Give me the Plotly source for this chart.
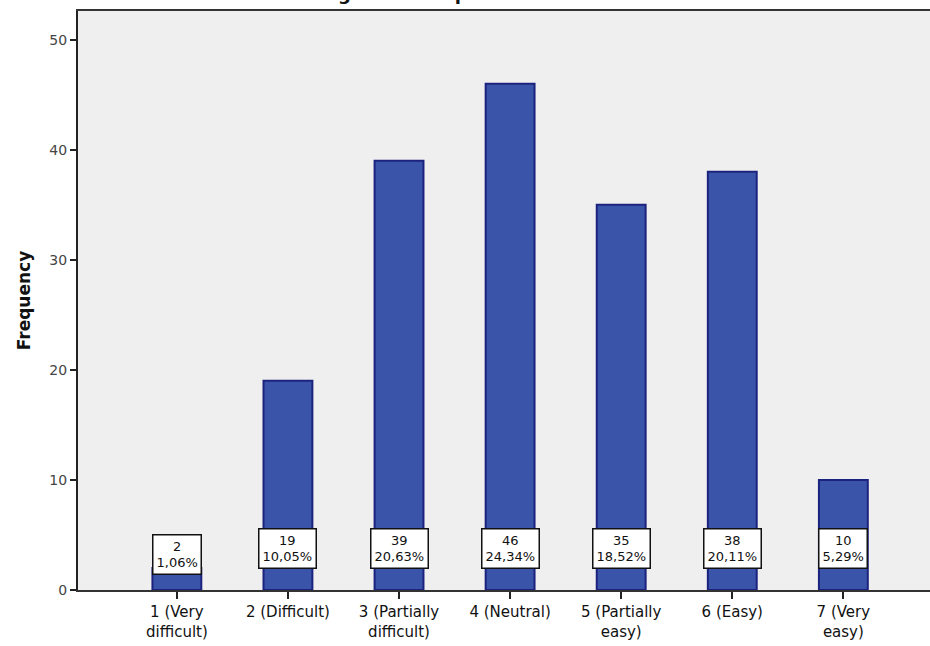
import plotly.graph_objects as go

# Response categories and counts
categories = [
    "1 (Very<br>difficult)",
    "2 (Difficult)",
    "3 (Partially<br>difficult)",
    "4 (Neutral)",
    "5 (Partially<br>easy)",
    "6 (Easy)",
    "7 (Very<br>easy)",
]
counts = [2, 19, 39, 46, 35, 38, 10]
y_ticks = [0, 10, 20, 30, 40, 50]

total = sum(counts)
positions = list(range(len(categories)))

fig = go.Figure()
fig.add_trace(go.Bar(
    x=positions,
    y=counts,
    width=0.44,
    marker=dict(color="#3a54a9", line=dict(color="#1c237e", width=2)),
    hoverinfo="skip",
))

# Count / percent boxes near the base of each bar
for i, c in enumerate(counts):
    pct = f"{100 * c / total:.2f}".replace(".", ",")
    fig.add_annotation(
        x=i, y=3.2 if c < 4 else 3.8, xref="x", yref="y",
        text=f"{c}<br>{pct}%",
        showarrow=False,
        font=dict(family="DejaVu Sans", size=13, color="#111"),
        bgcolor="white", bordercolor="#111", borderwidth=1.5, borderpad=3,
    )

# Title (only its lower part fits on the page)
fig.add_annotation(
    x=0.46, y=1, xref="paper", yref="paper",
    xanchor="center", yanchor="bottom", yshift=5,
    text="<b>goodwill impairment test.</b>",
    showarrow=False,
    font=dict(family="DejaVu Sans", size=18, color="#111"),
)

fig.update_layout(
    width=930, height=646,
    margin=dict(l=78, r=0, t=11, b=56),
    paper_bgcolor="white",
    plot_bgcolor="#efefef",
    showlegend=False,
    xaxis=dict(
        range=[-0.89, 6.78],
        tickvals=positions, ticktext=categories,
        ticks="outside", ticklen=7, tickwidth=2, tickcolor="#222",
        showline=True, linecolor="#333", linewidth=2, mirror=True,
        showgrid=False, zeroline=False,
        tickfont=dict(family="DejaVu Sans", size=15, color="#111"),
    ),
    yaxis=dict(
        range=[0, 52.6],
        tickvals=y_ticks,
        ticks="outside", ticklen=6, tickwidth=2, tickcolor="#222",
        showline=True, linecolor="#222", linewidth=2,
        showgrid=False, zeroline=False,
        tickfont=dict(family="DejaVu Sans", size=14, color="#444"),
        title=dict(text="<b>Frequency</b>", standoff=14,
                   font=dict(family="DejaVu Sans", size=17, color="#111")),
    ),
)

fig.write_html("out.html")
